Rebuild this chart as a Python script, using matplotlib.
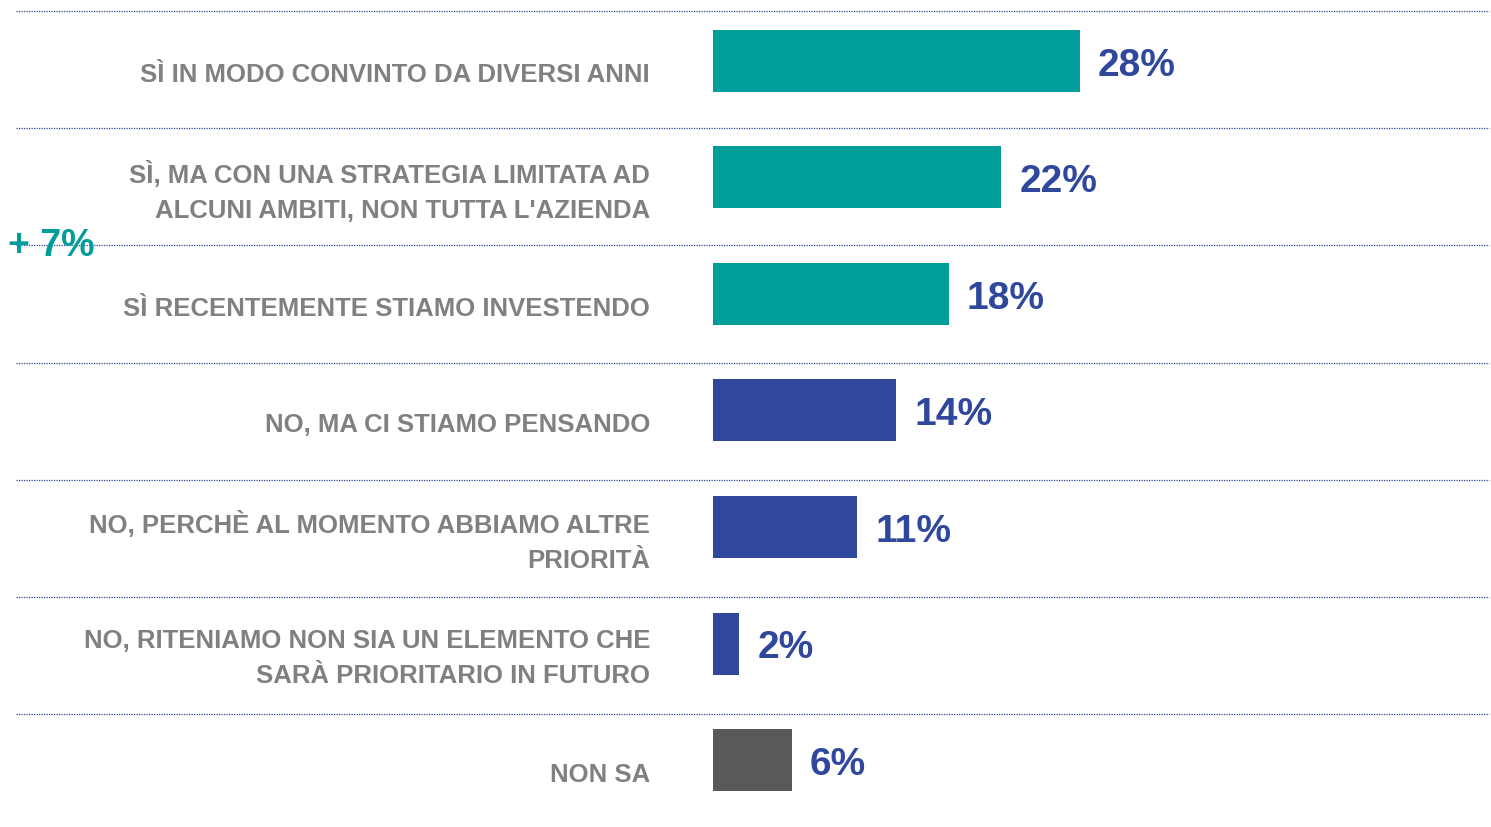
import matplotlib
matplotlib.use("Agg")
import matplotlib.pyplot as plt

# data
labels = [
    "SÌ IN MODO CONVINTO DA DIVERSI ANNI",
    "SÌ, MA CON UNA STRATEGIA LIMITATA AD\nALCUNI AMBITI, NON TUTTA L'AZIENDA",
    "SÌ RECENTEMENTE STIAMO INVESTENDO",
    "NO, MA CI STIAMO PENSANDO",
    "NO, PERCHÈ AL MOMENTO ABBIAMO ALTRE\nPRIORITÀ",
    "NO, RITENIAMO NON SIA UN ELEMENTO CHE\nSARÀ PRIORITARIO IN FUTURO",
    "NON SA",
]
values = [28, 22, 18, 14, 11, 2, 6]
groups = ["yes", "yes", "yes", "no", "no", "no", "dk"]
delta_text = "+ 7%"

teal = "#009d9b"
blue = "#2f479c"
gray_bar = "#595959"
gray_txt = "#808080"
colors = {"yes": teal, "no": blue, "dk": gray_bar}

plt.rcParams["font.family"] = ["Liberation Sans", "DejaVu Sans"]

fig = plt.figure(figsize=(14.91, 8.28), dpi=100)
ax = fig.add_axes([0, 0, 1, 1])

# pixel mapping: 0% at x=713px, ~13.1px per %
px_per = 13.1
ax.set_xlim(-713 / px_per, (1491 - 713) / px_per)
row_h = 116.6
top = 61.5
ax.set_ylim((828 - top) / row_h, -top / row_h)
ax.axis("off")

ypos = list(range(len(values)))
ax.barh(ypos, values, height=62 / row_h,
        color=[colors[g] for g in groups], zorder=2)

for y, v in zip(ypos, values):
    ax.text(v + 18 / px_per, y + 4 / row_h, f"{v}%", color=blue, fontsize=28,
            fontweight="bold", va="center", ha="left")

label_x = (650 - 713) / px_per
for y, lab in zip(ypos, labels):
    ax.text(label_x, y + 14 / row_h, lab, color=gray_txt, fontsize=18.5,
            fontweight="bold", ha="right", va="center", linespacing=1.6)

# dotted separators
for k in ypos:
    yl = (12 + 117.2 * k - top) / row_h
    ax.axhline(yl, xmin=16 / 1491, xmax=1489 / 1491,
               color=blue, linestyle=(0, (1, 1)), linewidth=0.9, zorder=1)

ax.text(-705 / px_per, (246 - top) / row_h, delta_text, color=teal, fontsize=27,
        fontweight="bold", ha="left", va="center", zorder=3)

fig.savefig("out.png", dpi=100)
